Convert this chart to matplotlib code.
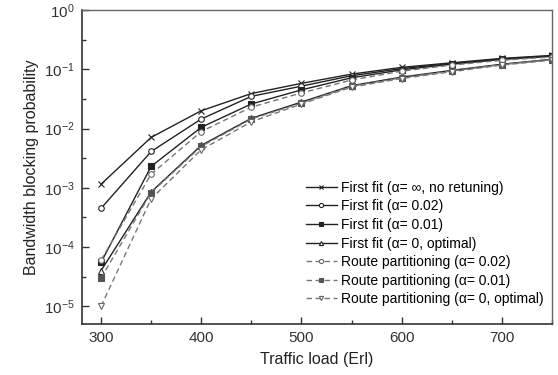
import math
import matplotlib
matplotlib.use("Agg")
import matplotlib.pyplot as plt
from matplotlib.ticker import FixedLocator, MultipleLocator, FuncFormatter

plt.rcParams['font.family'] = ['Liberation Sans', 'DejaVu Sans']
plt.rcParams['mathtext.fontset'] = 'custom'
plt.rcParams['mathtext.rm'] = 'Liberation Sans'

load = [300, 350, 400, 450, 500, 550, 600, 650, 700, 750]

ff_inf = [1.15e-3, 7.1e-3, 0.020, 0.039, 0.058, 0.083, 0.108, 0.129, 0.153, 0.172]
ff_002 = [4.5e-4, 4.1e-3, 0.0145, 0.035, 0.052, 0.078, 0.103, 0.125, 0.150, 0.168]
ff_001 = [5.5e-5, 2.3e-3, 0.0105, 0.026, 0.045, 0.072, 0.098, 0.122, 0.147, 0.166]
ff_0 = [4.0e-5, 8.5e-4, 5.2e-3, 0.0149, 0.028, 0.053, 0.074, 0.096, 0.122, 0.148]
rp_002 = [6.0e-5, 1.7e-3, 8.9e-3, 0.023, 0.040, 0.066, 0.093, 0.118, 0.142, 0.162]
rp_001 = [3.0e-5, 8.3e-4, 5.0e-3, 0.0145, 0.027, 0.052, 0.072, 0.094, 0.120, 0.146]
rp_0 = [1.0e-5, 6.5e-4, 4.4e-3, 0.013, 0.026, 0.050, 0.070, 0.091, 0.118, 0.143]

labels = [
    "First fit (\u03b1= \u221e, no retuning)",
    "First fit (\u03b1= 0.02)",
    "First fit (\u03b1= 0.01)",
    "First fit (\u03b1= 0, optimal)",
    "Route partitioning (\u03b1= 0.02)",
    "Route partitioning (\u03b1= 0.01)",
    "Route partitioning (\u03b1= 0, optimal)",
]

fig = plt.figure(figsize=(5.58, 3.75), dpi=100)
ax = fig.add_axes([0.147, 0.136, 0.842, 0.837])

solid = dict(color='#222222', lw=1.0, ms=4, mew=0.8, linestyle='-')
dash = dict(color='#777777', lw=1.0, ms=4, mew=0.8, linestyle=(0, (4, 2.5)))

ax.plot(load, ff_inf, marker='x', label=labels[0], **solid)
ax.plot(load, ff_002, marker='o', mfc='white', label=labels[1], **solid)
ax.plot(load, ff_001, marker='s', mfc='#222222', label=labels[2], **solid)
ax.plot(load, ff_0, marker='^', mfc='white', label=labels[3], **solid)
ax.plot(load, rp_002, marker='o', mfc='white', mec='#666666', label=labels[4], **dash)
ax.plot(load, rp_001, marker='s', mfc='#555555', mec='#555555', label=labels[5], **dash)
ax.plot(load, rp_0, marker='v', mfc='white', mec='#666666', label=labels[6], **dash)

ax.set_yscale('log')
ax.set_xlim(281, 750)
ax.set_ylim(10**-5.3, 1.0)

ax.xaxis.set_major_locator(MultipleLocator(100))
ax.xaxis.set_minor_locator(MultipleLocator(50))
ax.yaxis.set_major_locator(FixedLocator([1e-5, 1e-4, 1e-3, 1e-2, 1e-1, 1e0]))
ax.yaxis.set_minor_locator(FixedLocator([10**(-4.5), 10**(-3.5), 10**(-2.5), 10**(-1.5), 10**(-0.5)]))
ax.yaxis.set_major_formatter(FuncFormatter(lambda v, p: r'$\mathregular{10^{%d}}$' % round(math.log10(v))))
ax.yaxis.set_minor_formatter(FuncFormatter(lambda v, p: ''))

ax.tick_params(which='both', direction='in', top=False, right=False, labelsize=11, colors='#333333')
ax.tick_params(which='major', length=5, width=1, pad=5)
ax.tick_params(which='minor', length=3, width=1)
for s in ['left', 'bottom']:
    ax.spines[s].set_color('#333333')
    ax.spines[s].set_linewidth(1.2)
for s in ['top', 'right']:
    ax.spines[s].set_color('#666666')
    ax.spines[s].set_linewidth(1.0)

ax.set_xlabel('Traffic load (Erl)', fontsize=11.5, color='#222222', labelpad=5)
ax.set_ylabel('Bandwidth blocking probability', fontsize=11.5, color='#222222', labelpad=4)

leg = ax.legend(loc='lower right', frameon=False, fontsize=10, handlelength=2.2,
                handletextpad=0.3, labelspacing=0.33, borderaxespad=0.2,
                bbox_to_anchor=(1.0, 0.03), markerscale=0.75)

fig.savefig('out.png', dpi=100)
